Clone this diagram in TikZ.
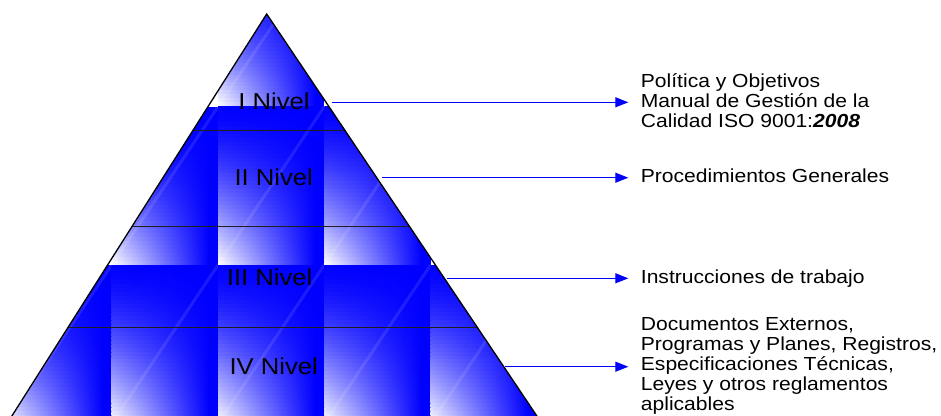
\documentclass[tikz,border=0pt]{standalone}
\usepackage{fontspec}
\newfontfamily\pyrfont[FakeStretch=1.115]{Liberation Sans}
\usetikzlibrary{arrows.meta}
\begin{document}
\begin{tikzpicture}[x=1pt,y=-1pt,
  edgeline/.style={line width=1.3pt, black, line join=miter},
  levelline/.style={line width=1.3pt, black!88},
  levellabel/.style={font=\pyrfont\fontsize{23}{26}\selectfont, inner sep=0pt, anchor=base},
  desc/.style={font=\pyrfont\fontsize{18.9}{20}\selectfont, inner sep=0pt, anchor=base west},
  link/.style={line width=1.2pt, draw=blue, -{Triangle[length=13pt,width=10pt]}, shorten >=12.4pt},
  glint/.style={white, opacity=0.1, line width=3pt}
]
\useasboundingbox (0,0) rectangle (941,415);
\coordinate (apex) at (266.7,14);
\coordinate (bl) at (3.0,430);
\coordinate (br) at (546.3,430);
\begin{scope}
  \clip (apex) -- (bl) -- (br) -- cycle;
  \foreach \tx/\ty in {218/-51.6, 111.7/106.7, 218/106.7, 324.3/106.7, 5.4/265, 111.7/265, 218/265, 324.3/265, 430.6/265} {
    \fill[blue] (\tx,\ty) rectangle ++(106.3,158.3);
    \foreach \k in {0,...,39} {
      \pgfmathsetmacro\pct{100*(1-((\k+0.5)/40)^1.5)}
      \shade[left color=blue!\pct!white, right color=blue] (\tx,\ty+\k*3.9575) rectangle ++(97,4.4);
    }
    \draw[glint] (\tx,\ty+158.3) -- ++(106.3,-158.3);
  }
  \draw[levelline] (0,130.7) -- (600,130.7);
  \draw[levelline] (0,226.3) -- (600,226.3);
  \draw[levelline] (0,327.7) -- (600,327.7);
\end{scope}
\draw[edgeline] (apex) -- (bl) -- (br) -- cycle;

\node[levellabel] (n1) at (274,109) {I Nivel};
\node[levellabel] (n2) at (273.7,185) {II Nivel};
\node[levellabel] (n3) at (269.7,285.7) {III Nivel};
\node[levellabel] (n4) at (273.7,374) {IV Nivel};

\node[desc] (d1) at (640.7,87.3) {\vtop{\baselineskip=20pt\hbox{Política y Objetivos}\hbox{Manual de Gestión de la}\hbox{Calidad ISO 9001:{\bfseries\itshape 2008}}}};
\node[desc] (d2) at (640.7,182.4) {Procedimientos Generales};
\node[desc] (d3) at (640.7,283) {Instrucciones de trabajo};
\node[desc] (d4) at (640.7,330.7) {\vtop{\baselineskip=20pt\hbox{Documentos Externos,}\hbox{Programas y Planes, Registros,}\hbox{Especificaciones Técnicas,}\hbox{Leyes y otros reglamentos}\hbox{aplicables}}};

\coordinate (c1) at (331.7,102.3);
\coordinate (c2) at (382,177.7);
\coordinate (c3) at (446.7,278.3);
\coordinate (c4) at (504.5,366.7);
\draw[link] (c1) -- (c1 -| d1.west);
\draw[link] (c2) -- (c2 -| d2.west);
\draw[link] (c3) -- (c3 -| d3.west);
\draw[link] (c4) -- (c4 -| d4.west);
\end{tikzpicture}
\end{document}
